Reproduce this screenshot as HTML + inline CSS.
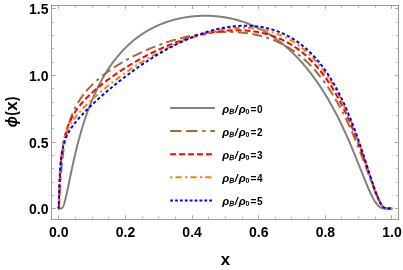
<!DOCTYPE html>
<html><head><meta charset="utf-8"><title>plot</title>
<style>
html,body{margin:0;padding:0;background:#fff;}
body{width:403px;height:270px;overflow:hidden;}
svg{display:block;will-change:transform;}
text{font-family:"Liberation Sans",sans-serif;font-weight:bold;fill:#000;}
.tk text{font-size:14px;}
.lg text{font-size:10px;}
.lg text.rho{font-size:11.5px;font-style:italic;}
.lg text.sl{font-size:11px;font-style:italic;}
.it{font-style:italic;}
.lg text.sub{font-size:7px;}
.lg text.subB{font-size:7.3px;font-style:italic;font-weight:normal;stroke:#000;stroke-width:0.3px;}
.ax{font-size:16.8px;}
</style></head><body>
<svg width="403" height="270" viewBox="0 0 403 270">
<rect x="0" y="0" width="403" height="270" fill="#fff"/>
<g class="curves" stroke-linejoin="round">
<path d="M58.40 208.60L58.40 208.60L58.41 208.60L58.42 208.60L58.43 208.60L58.44 208.60L58.46 208.60L58.48 208.60L58.51 208.60L58.54 208.60L58.57 208.60L58.60 208.60L58.64 208.60L58.68 208.60L58.73 208.60L58.78 208.60L58.83 208.60L58.89 208.60L58.94 208.60L59.01 208.60L59.07 208.60L59.14 208.60L59.21 208.60L59.29 208.60L59.37 208.60L59.45 208.60L59.54 208.60L59.62 208.60L59.72 208.60L59.81 208.60L59.91 208.60L60.01 208.60L60.12 208.60L60.23 208.60L60.34 208.60L60.46 208.59L60.58 208.59L60.70 208.58L60.82 208.57L60.95 208.55L61.08 208.52L61.22 208.48L61.36 208.44L61.50 208.37L61.65 208.29L61.79 208.20L61.95 208.08L62.10 207.93L62.26 207.76L62.42 207.55L62.59 207.32L62.76 207.05L62.93 206.74L63.10 206.40L63.28 206.01L63.46 205.59L63.65 205.12L63.84 204.61L64.03 204.06L64.22 203.46L64.42 202.82L64.62 202.14L64.82 201.42L65.03 200.65L65.24 199.85L65.46 199.00L65.67 198.12L65.89 197.20L66.12 196.24L66.34 195.25L66.57 194.22L66.81 193.17L67.04 192.08L67.28 190.96L67.53 189.82L67.77 188.65L68.02 187.46L68.27 186.25L68.53 185.01L68.79 183.76L69.05 182.48L69.32 181.20L69.58 179.89L69.85 178.58L70.13 177.25L70.41 175.90L70.69 174.55L70.97 173.19L71.26 171.83L71.55 170.45L71.84 169.07L72.14 167.69L72.44 166.30L72.74 164.90L73.04 163.51L73.35 162.12L73.66 160.72L73.98 159.32L74.30 157.93L74.62 156.53L74.94 155.14L75.27 153.75L75.60 152.36L75.93 150.98L76.27 149.60L76.60 148.22L76.95 146.85L77.29 145.49L77.64 144.12L77.99 142.77L78.34 141.42L78.70 140.07L79.06 138.74L79.42 137.41L79.79 136.08L80.16 134.77L80.53 133.46L80.90 132.15L81.28 130.86L81.66 129.57L82.04 128.29L82.43 127.02L82.82 125.75L83.21 124.50L83.60 123.25L84.00 122.01L84.40 120.78L84.80 119.55L85.21 118.34L85.62 117.13L86.03 115.93L86.44 114.74L86.86 113.56L87.28 112.39L87.70 111.22L88.13 110.07L88.56 108.92L88.99 107.78L89.42 106.65L89.86 105.53L90.30 104.41L90.74 103.31L91.18 102.21L91.63 101.12L92.08 100.04L92.53 98.97L92.99 97.91L93.45 96.85L93.91 95.81L94.37 94.77L94.84 93.74L95.30 92.71L95.78 91.70L96.25 90.70L96.73 89.70L97.21 88.71L97.69 87.73L98.17 86.76L98.66 85.79L99.15 84.83L99.64 83.89L100.13 82.95L100.63 82.01L101.13 81.09L101.63 80.17L102.14 79.26L102.64 78.36L103.15 77.47L103.66 76.58L104.18 75.71L104.69 74.84L105.21 73.97L105.73 73.12L106.26 72.27L106.79 71.43L107.31 70.60L107.84 69.78L108.38 68.96L108.91 68.15L109.45 67.35L109.99 66.56L110.54 65.77L111.08 64.99L111.63 64.22L112.18 63.46L112.73 62.70L113.28 61.95L113.84 61.21L114.40 60.47L114.96 59.74L115.52 59.02L116.09 58.31L116.66 57.60L117.23 56.90L117.80 56.21L118.37 55.52L118.95 54.85L119.53 54.17L120.11 53.51L120.69 52.85L121.28 52.20L121.86 51.56L122.45 50.92L123.04 50.29L123.64 49.67L124.23 49.05L124.83 48.44L125.43 47.84L126.03 47.24L126.63 46.65L127.24 46.07L127.84 45.49L128.45 44.92L129.06 44.36L129.68 43.80L130.29 43.25L130.91 42.71L131.53 42.17L132.15 41.64L132.77 41.11L133.39 40.59L134.02 40.08L134.65 39.58L135.28 39.08L135.91 38.58L136.54 38.09L137.18 37.61L137.82 37.14L138.46 36.67L139.10 36.20L139.74 35.75L140.38 35.30L141.03 34.85L141.67 34.41L142.32 33.98L142.97 33.55L143.63 33.13L144.28 32.71L144.94 32.30L145.59 31.90L146.25 31.50L146.91 31.10L147.58 30.72L148.24 30.33L148.90 29.96L149.57 29.59L150.24 29.22L150.91 28.86L151.58 28.51L152.25 28.16L152.93 27.81L153.60 27.47L154.28 27.14L154.96 26.81L155.64 26.49L156.32 26.17L157.00 25.86L157.69 25.55L158.37 25.25L159.06 24.95L159.75 24.66L160.44 24.38L161.13 24.09L161.82 23.82L162.51 23.55L163.21 23.28L163.90 23.02L164.60 22.76L165.30 22.51L166.00 22.26L166.70 22.02L167.40 21.78L168.10 21.55L168.81 21.32L169.51 21.10L170.22 20.88L170.93 20.67L171.64 20.46L172.35 20.26L173.06 20.06L173.77 19.86L174.48 19.67L175.19 19.49L175.91 19.31L176.63 19.13L177.34 18.96L178.06 18.79L178.78 18.63L179.50 18.47L180.22 18.32L180.94 18.17L181.66 18.03L182.39 17.89L183.11 17.75L183.84 17.62L184.56 17.49L185.29 17.37L186.02 17.25L186.74 17.14L187.47 17.03L188.20 16.93L188.93 16.83L189.66 16.73L190.40 16.64L191.13 16.55L191.86 16.47L192.60 16.39L193.33 16.32L194.07 16.25L194.80 16.19L195.54 16.13L196.27 16.07L197.01 16.02L197.75 15.97L198.49 15.93L199.23 15.89L199.97 15.86L200.71 15.83L201.45 15.80L202.19 15.78L202.93 15.77L203.67 15.76L204.42 15.75L205.16 15.75L205.90 15.75L206.65 15.76L207.39 15.77L208.14 15.78L208.88 15.80L209.63 15.83L210.37 15.85L211.12 15.89L211.86 15.93L212.61 15.97L213.36 16.02L214.10 16.07L214.85 16.13L215.60 16.19L216.35 16.25L217.09 16.32L217.84 16.40L218.59 16.48L219.34 16.56L220.09 16.65L220.83 16.75L221.58 16.85L222.33 16.95L223.08 17.06L223.83 17.17L224.58 17.29L225.32 17.41L226.07 17.54L226.82 17.67L227.57 17.81L228.32 17.95L229.07 18.10L229.81 18.26L230.56 18.41L231.31 18.58L232.06 18.74L232.81 18.92L233.55 19.10L234.30 19.28L235.05 19.47L235.80 19.66L236.54 19.86L237.29 20.07L238.04 20.27L238.78 20.49L239.53 20.71L240.27 20.94L241.02 21.17L241.76 21.40L242.51 21.64L243.25 21.89L244.00 22.14L244.74 22.40L245.48 22.66L246.23 22.93L246.97 23.21L247.71 23.49L248.45 23.77L249.19 24.06L249.93 24.36L250.67 24.66L251.41 24.97L252.15 25.28L252.89 25.60L253.63 25.93L254.36 26.26L255.10 26.60L255.83 26.94L256.57 27.29L257.30 27.64L258.04 28.00L258.77 28.37L259.50 28.74L260.24 29.12L260.97 29.50L261.70 29.89L262.43 30.28L263.16 30.68L263.88 31.09L264.61 31.50L265.34 31.92L266.06 32.35L266.79 32.78L267.51 33.22L268.24 33.66L268.96 34.11L269.68 34.57L270.40 35.03L271.12 35.49L271.84 35.97L272.56 36.45L273.27 36.93L273.99 37.43L274.71 37.93L275.42 38.43L276.13 38.94L276.84 39.46L277.55 39.98L278.26 40.51L278.97 41.05L279.68 41.59L280.39 42.14L281.09 42.69L281.80 43.25L282.50 43.82L283.20 44.39L283.90 44.97L284.60 45.56L285.30 46.15L286.00 46.75L286.69 47.36L287.39 47.97L288.08 48.59L288.77 49.21L289.46 49.84L290.15 50.48L290.84 51.12L291.53 51.77L292.21 52.42L292.90 53.09L293.58 53.75L294.26 54.43L294.94 55.11L295.62 55.80L296.30 56.49L296.97 57.19L297.65 57.90L298.32 58.61L298.99 59.33L299.66 60.06L300.33 60.79L301.00 61.53L301.66 62.27L302.32 63.02L302.99 63.78L303.65 64.54L304.31 65.31L304.96 66.09L305.62 66.87L306.27 67.66L306.93 68.45L307.58 69.25L308.22 70.06L308.87 70.87L309.52 71.69L310.16 72.52L310.80 73.35L311.44 74.19L312.08 75.04L312.72 75.89L313.36 76.74L313.99 77.61L314.62 78.48L315.25 79.35L315.88 80.23L316.51 81.12L317.13 82.02L317.75 82.92L318.37 83.82L318.99 84.73L319.61 85.65L320.22 86.58L320.84 87.51L321.45 88.44L322.06 89.38L322.66 90.33L323.27 91.29L323.87 92.24L324.47 93.21L325.07 94.18L325.67 95.16L326.26 96.14L326.86 97.13L327.45 98.12L328.04 99.12L328.62 100.12L329.21 101.13L329.79 102.15L330.37 103.17L330.95 104.20L331.53 105.23L332.10 106.27L332.67 107.31L333.24 108.35L333.81 109.41L334.38 110.46L334.94 111.52L335.50 112.59L336.06 113.66L336.62 114.74L337.17 115.82L337.72 116.90L338.27 117.99L338.82 119.09L339.36 120.18L339.91 121.29L340.45 122.39L340.99 123.50L341.52 124.61L342.06 125.73L342.59 126.85L343.11 127.98L343.64 129.10L344.17 130.23L344.69 131.37L345.21 132.50L345.72 133.64L346.24 134.78L346.75 135.92L347.26 137.07L347.76 138.21L348.27 139.36L348.77 140.51L349.27 141.66L349.77 142.82L350.26 143.97L350.75 145.12L351.24 146.28L351.73 147.43L352.21 148.58L352.69 149.74L353.17 150.89L353.65 152.04L354.12 153.19L354.60 154.34L355.06 155.49L355.53 156.63L355.99 157.77L356.45 158.91L356.91 160.05L357.37 161.18L357.82 162.31L358.27 163.43L358.72 164.55L359.16 165.67L359.60 166.78L360.04 167.88L360.48 168.98L360.91 170.07L361.34 171.15L361.77 172.23L362.20 173.29L362.62 174.35L363.04 175.40L363.46 176.44L363.87 177.47L364.28 178.49L364.69 179.50L365.10 180.50L365.50 181.49L365.90 182.46L366.30 183.42L366.69 184.37L367.08 185.30L367.47 186.22L367.86 187.13L368.24 188.02L368.62 188.89L369.00 189.75L369.37 190.59L369.74 191.41L370.11 192.22L370.48 193.01L370.84 193.78L371.20 194.53L371.56 195.26L371.91 195.97L372.26 196.67L372.61 197.34L372.95 197.99L373.30 198.62L373.63 199.23L373.97 199.82L374.30 200.39L374.63 200.94L374.96 201.46L375.28 201.96L375.60 202.45L375.92 202.90L376.24 203.34L376.55 203.76L376.86 204.16L377.16 204.53L377.46 204.88L377.76 205.22L378.06 205.53L378.35 205.82L378.64 206.10L378.93 206.35L379.21 206.59L379.49 206.81L379.77 207.01L380.05 207.19L380.32 207.36L380.58 207.51L380.85 207.65L381.11 207.78L381.37 207.89L381.63 207.99L381.88 208.08L382.13 208.16L382.37 208.23L382.62 208.29L382.86 208.35L383.09 208.39L383.33 208.43L383.56 208.46L383.78 208.49L384.01 208.51L384.23 208.53L384.44 208.55L384.66 208.56L384.87 208.57L385.08 208.58L385.28 208.58L385.48 208.59L385.68 208.59L385.87 208.59L386.06 208.60L386.25 208.60L386.44 208.60L386.62 208.60L386.80 208.60L386.97 208.60L387.14 208.60L387.31 208.60L387.48 208.60L387.64 208.60L387.80 208.60L387.95 208.60L388.11 208.60L388.25 208.60L388.40 208.60L388.54 208.60L388.68 208.60L388.82 208.60L388.95 208.60L389.08 208.60L389.20 208.60L389.32 208.60L389.44 208.60L389.56 208.60L389.67 208.60L389.78 208.60L389.89 208.60L389.99 208.60L390.09 208.60L390.18 208.60L390.28 208.60L390.36 208.60L390.45 208.60L390.53 208.60L390.61 208.60L390.69 208.60L390.76 208.60L390.83 208.60L390.89 208.60L390.96 208.60L391.01 208.60L391.07 208.60L391.12 208.60L391.17 208.60L391.22 208.60L391.26 208.60L391.30 208.60L391.33 208.60L391.36 208.60L391.39 208.60L391.42 208.60L391.44 208.60L391.46 208.60L391.47 208.60L391.48 208.60L391.49 208.60L391.50 208.60L391.50 208.60L392.40 208.60" stroke="#808080" stroke-width="2.00" fill="none" />
<path d="M58.40 208.60L58.40 208.60L58.41 208.60L58.42 208.60L58.43 208.60L58.44 208.60L58.46 208.60L58.48 208.60L58.51 208.60L58.54 208.60L58.57 208.60L58.60 208.60L58.64 208.59L58.68 208.57L58.73 208.52L58.78 208.41L58.83 208.23L58.89 207.93L58.94 207.50L59.01 206.92L59.07 206.19L59.14 205.30L59.21 204.26L59.29 203.08L59.37 201.78L59.45 200.35L59.54 198.83L59.62 197.22L59.72 195.55L59.81 193.82L59.91 192.04L60.01 190.24L60.12 188.41L60.23 186.57L60.34 184.72L60.46 182.88L60.58 181.04L60.70 179.21L60.82 177.40L60.95 175.61L61.08 173.84L61.22 172.09L61.36 170.37L61.50 168.67L61.65 167.01L61.79 165.36L61.95 163.75L62.10 162.17L62.26 160.61L62.42 159.09L62.59 157.59L62.76 156.12L62.93 154.68L63.10 153.26L63.28 151.88L63.46 150.52L63.65 149.18L63.84 147.87L64.03 146.59L64.22 145.33L64.42 144.09L64.62 142.88L64.82 141.69L65.03 140.52L65.24 139.37L65.46 138.25L65.67 137.14L65.89 136.05L66.12 134.99L66.34 133.94L66.57 132.91L66.81 131.89L67.04 130.90L67.28 129.92L67.53 128.96L67.77 128.01L68.02 127.08L68.27 126.16L68.53 125.26L68.79 124.37L69.05 123.49L69.32 122.63L69.58 121.78L69.85 120.95L70.13 120.13L70.41 119.31L70.69 118.52L70.97 117.73L71.26 116.95L71.55 116.18L71.84 115.43L72.14 114.68L72.44 113.95L72.74 113.22L73.04 112.50L73.35 111.80L73.66 111.10L73.98 110.41L74.30 109.73L74.62 109.05L74.94 108.39L75.27 107.73L75.60 107.08L75.93 106.44L76.27 105.81L76.60 105.18L76.95 104.56L77.29 103.95L77.64 103.34L77.99 102.74L78.34 102.15L78.70 101.56L79.06 100.98L79.42 100.41L79.79 99.84L80.16 99.27L80.53 98.71L80.90 98.16L81.28 97.61L81.66 97.07L82.04 96.53L82.43 96.00L82.82 95.47L83.21 94.94L83.60 94.43L84.00 93.91L84.40 93.40L84.80 92.89L85.21 92.39L85.62 91.89L86.03 91.40L86.44 90.91L86.86 90.42L87.28 89.94L87.70 89.46L88.13 88.98L88.56 88.51L88.99 88.04L89.42 87.58L89.86 87.11L90.30 86.65L90.74 86.20L91.18 85.74L91.63 85.29L92.08 84.85L92.53 84.40L92.99 83.96L93.45 83.52L93.91 83.08L94.37 82.65L94.84 82.22L95.30 81.79L95.78 81.36L96.25 80.94L96.73 80.51L97.21 80.09L97.69 79.67L98.17 79.26L98.66 78.85L99.15 78.43L99.64 78.02L100.13 77.62L100.63 77.21L101.13 76.81L101.63 76.41L102.14 76.01L102.64 75.61L103.15 75.21L103.66 74.82L104.18 74.42L104.69 74.03L105.21 73.64L105.73 73.26L106.26 72.87L106.79 72.48L107.31 72.10L107.84 71.72L108.38 71.34L108.91 70.96L109.45 70.58L109.99 70.21L110.54 69.84L111.08 69.46L111.63 69.09L112.18 68.72L112.73 68.35L113.28 67.99L113.84 67.62L114.40 67.26L114.96 66.89L115.52 66.53L116.09 66.17L116.66 65.81L117.23 65.46L117.80 65.10L118.37 64.75L118.95 64.39L119.53 64.04L120.11 63.69L120.69 63.34L121.28 62.99L121.86 62.64L122.45 62.30L123.04 61.95L123.64 61.61L124.23 61.27L124.83 60.93L125.43 60.59L126.03 60.25L126.63 59.91L127.24 59.58L127.84 59.25L128.45 58.91L129.06 58.58L129.68 58.25L130.29 57.92L130.91 57.60L131.53 57.27L132.15 56.95L132.77 56.62L133.39 56.30L134.02 55.98L134.65 55.66L135.28 55.34L135.91 55.03L136.54 54.71L137.18 54.40L137.82 54.09L138.46 53.78L139.10 53.47L139.74 53.16L140.38 52.86L141.03 52.55L141.67 52.25L142.32 51.95L142.97 51.65L143.63 51.35L144.28 51.06L144.94 50.76L145.59 50.47L146.25 50.18L146.91 49.89L147.58 49.60L148.24 49.32L148.90 49.03L149.57 48.75L150.24 48.47L150.91 48.19L151.58 47.91L152.25 47.64L152.93 47.36L153.60 47.09L154.28 46.82L154.96 46.55L155.64 46.29L156.32 46.02L157.00 45.76L157.69 45.50L158.37 45.24L159.06 44.99L159.75 44.73L160.44 44.48L161.13 44.23L161.82 43.98L162.51 43.73L163.21 43.49L163.90 43.25L164.60 43.01L165.30 42.77L166.00 42.53L166.70 42.30L167.40 42.07L168.10 41.84L168.81 41.61L169.51 41.38L170.22 41.16L170.93 40.94L171.64 40.72L172.35 40.51L173.06 40.29L173.77 40.08L174.48 39.87L175.19 39.67L175.91 39.46L176.63 39.26L177.34 39.06L178.06 38.86L178.78 38.67L179.50 38.47L180.22 38.28L180.94 38.10L181.66 37.91L182.39 37.73L183.11 37.55L183.84 37.37L184.56 37.20L185.29 37.03L186.02 36.86L186.74 36.69L187.47 36.52L188.20 36.36L188.93 36.20L189.66 36.05L190.40 35.89L191.13 35.74L191.86 35.59L192.60 35.45L193.33 35.30L194.07 35.16L194.80 35.02L195.54 34.89L196.27 34.76L197.01 34.63L197.75 34.50L198.49 34.38L199.23 34.25L199.97 34.14L200.71 34.02L201.45 33.91L202.19 33.80L202.93 33.69L203.67 33.59L204.42 33.49L205.16 33.39L205.90 33.29L206.65 33.20L207.39 33.11L208.14 33.03L208.88 32.94L209.63 32.86L210.37 32.79L211.12 32.71L211.86 32.64L212.61 32.58L213.36 32.51L214.10 32.45L214.85 32.39L215.60 32.34L216.35 32.29L217.09 32.24L217.84 32.19L218.59 32.15L219.34 32.11L220.09 32.08L220.83 32.04L221.58 32.01L222.33 31.99L223.08 31.97L223.83 31.95L224.58 31.93L225.32 31.92L226.07 31.91L226.82 31.91L227.57 31.91L228.32 31.91L229.07 31.92L229.81 31.92L230.56 31.94L231.31 31.95L232.06 31.97L232.81 32.00L233.55 32.03L234.30 32.06L235.05 32.09L235.80 32.13L236.54 32.18L237.29 32.22L238.04 32.27L238.78 32.33L239.53 32.39L240.27 32.45L241.02 32.52L241.76 32.59L242.51 32.66L243.25 32.74L244.00 32.82L244.74 32.91L245.48 33.00L246.23 33.10L246.97 33.20L247.71 33.30L248.45 33.41L249.19 33.53L249.93 33.64L250.67 33.77L251.41 33.89L252.15 34.02L252.89 34.16L253.63 34.30L254.36 34.45L255.10 34.60L255.83 34.75L256.57 34.91L257.30 35.08L258.04 35.25L258.77 35.42L259.50 35.60L260.24 35.78L260.97 35.97L261.70 36.17L262.43 36.37L263.16 36.57L263.88 36.78L264.61 37.00L265.34 37.22L266.06 37.44L266.79 37.68L267.51 37.91L268.24 38.15L268.96 38.40L269.68 38.66L270.40 38.92L271.12 39.18L271.84 39.45L272.56 39.73L273.27 40.01L273.99 40.30L274.71 40.59L275.42 40.89L276.13 41.20L276.84 41.51L277.55 41.83L278.26 42.15L278.97 42.48L279.68 42.82L280.39 43.16L281.09 43.51L281.80 43.87L282.50 44.23L283.20 44.60L283.90 44.98L284.60 45.36L285.30 45.75L286.00 46.14L286.69 46.54L287.39 46.95L288.08 47.37L288.77 47.79L289.46 48.22L290.15 48.65L290.84 49.10L291.53 49.55L292.21 50.00L292.90 50.47L293.58 50.94L294.26 51.41L294.94 51.90L295.62 52.39L296.30 52.89L296.97 53.40L297.65 53.91L298.32 54.43L298.99 54.96L299.66 55.49L300.33 56.04L301.00 56.59L301.66 57.15L302.32 57.71L302.99 58.28L303.65 58.86L304.31 59.45L304.96 60.04L305.62 60.65L306.27 61.26L306.93 61.87L307.58 62.50L308.22 63.13L308.87 63.77L309.52 64.42L310.16 65.07L310.80 65.73L311.44 66.40L312.08 67.08L312.72 67.77L313.36 68.46L313.99 69.16L314.62 69.87L315.25 70.58L315.88 71.31L316.51 72.04L317.13 72.77L317.75 73.52L318.37 74.27L318.99 75.03L319.61 75.80L320.22 76.58L320.84 77.36L321.45 78.15L322.06 78.94L322.66 79.75L323.27 80.56L323.87 81.38L324.47 82.21L325.07 83.04L325.67 83.88L326.26 84.73L326.86 85.58L327.45 86.44L328.04 87.31L328.62 88.19L329.21 89.07L329.79 89.96L330.37 90.85L330.95 91.76L331.53 92.67L332.10 93.58L332.67 94.50L333.24 95.43L333.81 96.37L334.38 97.31L334.94 98.26L335.50 99.21L336.06 100.17L336.62 101.14L337.17 102.11L337.72 103.09L338.27 104.07L338.82 105.06L339.36 106.05L339.91 107.05L340.45 108.06L340.99 109.07L341.52 110.09L342.06 111.11L342.59 112.14L343.11 113.17L343.64 114.20L344.17 115.25L344.69 116.29L345.21 117.34L345.72 118.40L346.24 119.46L346.75 120.52L347.26 121.59L347.76 122.66L348.27 123.74L348.77 124.81L349.27 125.90L349.77 126.98L350.26 128.07L350.75 129.16L351.24 130.26L351.73 131.36L352.21 132.46L352.69 133.56L353.17 134.67L353.65 135.78L354.12 136.89L354.60 138.00L355.06 139.11L355.53 140.23L355.99 141.34L356.45 142.46L356.91 143.58L357.37 144.70L357.82 145.82L358.27 146.94L358.72 148.06L359.16 149.18L359.60 150.30L360.04 151.42L360.48 152.54L360.91 153.66L361.34 154.77L361.77 155.89L362.20 157.00L362.62 158.11L363.04 159.22L363.46 160.33L363.87 161.43L364.28 162.53L364.69 163.62L365.10 164.72L365.50 165.81L365.90 166.89L366.30 167.97L366.69 169.04L367.08 170.11L367.47 171.17L367.86 172.23L368.24 173.27L368.62 174.32L369.00 175.35L369.37 176.38L369.74 177.39L370.11 178.40L370.48 179.40L370.84 180.39L371.20 181.37L371.56 182.34L371.91 183.30L372.26 184.24L372.61 185.18L372.95 186.10L373.30 187.01L373.63 187.90L373.97 188.78L374.30 189.65L374.63 190.50L374.96 191.33L375.28 192.15L375.60 192.95L375.92 193.74L376.24 194.50L376.55 195.25L376.86 195.98L377.16 196.69L377.46 197.38L377.76 198.05L378.06 198.70L378.35 199.33L378.64 199.94L378.93 200.53L379.21 201.09L379.49 201.63L379.77 202.15L380.05 202.65L380.32 203.13L380.58 203.58L380.85 204.01L381.11 204.42L381.37 204.80L381.63 205.16L381.88 205.50L382.13 205.82L382.37 206.11L382.62 206.39L382.86 206.64L383.09 206.87L383.33 207.09L383.56 207.28L383.78 207.46L384.01 207.62L384.23 207.76L384.44 207.89L384.66 208.00L384.87 208.10L385.08 208.19L385.28 208.26L385.48 208.32L385.68 208.38L385.87 208.42L386.06 208.46L386.25 208.49L386.44 208.52L386.62 208.54L386.80 208.55L386.97 208.57L387.14 208.58L387.31 208.58L387.48 208.59L387.64 208.59L387.80 208.60L387.95 208.60L388.11 208.60L388.25 208.60L388.40 208.60L388.54 208.60L388.68 208.60L388.82 208.60L388.95 208.60L389.08 208.60L389.20 208.60L389.32 208.60L389.44 208.60L389.56 208.60L389.67 208.60L389.78 208.60L389.89 208.60L389.99 208.60L390.09 208.60L390.18 208.60L390.28 208.60L390.36 208.60L390.45 208.60L390.53 208.60L390.61 208.60L390.69 208.60L390.76 208.60L390.83 208.60L390.89 208.60L390.96 208.60L391.01 208.60L391.07 208.60L391.12 208.60L391.17 208.60L391.22 208.60L391.26 208.60L391.30 208.60L391.33 208.60L391.36 208.60L391.39 208.60L391.42 208.60L391.44 208.60L391.46 208.60L391.47 208.60L391.48 208.60L391.49 208.60L391.50 208.60L391.50 208.60L392.40 208.60" stroke="#a06c34" stroke-width="2.00" fill="none" stroke-dasharray="10.160 4.354 10.160 4.354 2.993 4.354" stroke-dashoffset="0.46"/>
<path d="M58.40 208.60L58.40 208.60L58.41 208.60L58.42 208.60L58.43 208.60L58.44 208.60L58.46 208.60L58.48 208.60L58.51 208.60L58.54 208.60L58.57 208.58L58.60 208.53L58.64 208.39L58.68 208.12L58.73 207.65L58.78 206.96L58.83 206.02L58.89 204.84L58.94 203.44L59.01 201.84L59.07 200.07L59.14 198.18L59.21 196.18L59.29 194.11L59.37 191.99L59.45 189.85L59.54 187.70L59.62 185.56L59.72 183.44L59.81 181.36L59.91 179.30L60.01 177.30L60.12 175.34L60.23 173.42L60.34 171.56L60.46 169.75L60.58 167.99L60.70 166.29L60.82 164.63L60.95 163.02L61.08 161.47L61.22 159.95L61.36 158.49L61.50 157.07L61.65 155.69L61.79 154.35L61.95 153.05L62.10 151.78L62.26 150.56L62.42 149.36L62.59 148.20L62.76 147.07L62.93 145.98L63.10 144.91L63.28 143.86L63.46 142.85L63.65 141.86L63.84 140.89L64.03 139.94L64.22 139.02L64.42 138.12L64.62 137.24L64.82 136.38L65.03 135.53L65.24 134.71L65.46 133.90L65.67 133.10L65.89 132.33L66.12 131.56L66.34 130.81L66.57 130.08L66.81 129.35L67.04 128.64L67.28 127.95L67.53 127.26L67.77 126.58L68.02 125.92L68.27 125.26L68.53 124.62L68.79 123.98L69.05 123.35L69.32 122.74L69.58 122.13L69.85 121.52L70.13 120.93L70.41 120.34L70.69 119.76L70.97 119.19L71.26 118.62L71.55 118.06L71.84 117.51L72.14 116.96L72.44 116.42L72.74 115.88L73.04 115.35L73.35 114.82L73.66 114.30L73.98 113.78L74.30 113.27L74.62 112.76L74.94 112.26L75.27 111.76L75.60 111.26L75.93 110.77L76.27 110.28L76.60 109.80L76.95 109.31L77.29 108.83L77.64 108.36L77.99 107.89L78.34 107.42L78.70 106.95L79.06 106.49L79.42 106.03L79.79 105.57L80.16 105.11L80.53 104.66L80.90 104.21L81.28 103.76L81.66 103.31L82.04 102.86L82.43 102.42L82.82 101.98L83.21 101.54L83.60 101.10L84.00 100.67L84.40 100.23L84.80 99.80L85.21 99.37L85.62 98.94L86.03 98.51L86.44 98.08L86.86 97.66L87.28 97.23L87.70 96.81L88.13 96.39L88.56 95.97L88.99 95.55L89.42 95.13L89.86 94.71L90.30 94.30L90.74 93.88L91.18 93.47L91.63 93.05L92.08 92.64L92.53 92.23L92.99 91.82L93.45 91.40L93.91 91.00L94.37 90.59L94.84 90.18L95.30 89.77L95.78 89.36L96.25 88.96L96.73 88.55L97.21 88.15L97.69 87.74L98.17 87.34L98.66 86.94L99.15 86.53L99.64 86.13L100.13 85.73L100.63 85.33L101.13 84.93L101.63 84.53L102.14 84.13L102.64 83.73L103.15 83.33L103.66 82.93L104.18 82.53L104.69 82.14L105.21 81.74L105.73 81.34L106.26 80.95L106.79 80.55L107.31 80.16L107.84 79.76L108.38 79.37L108.91 78.98L109.45 78.58L109.99 78.19L110.54 77.80L111.08 77.40L111.63 77.01L112.18 76.62L112.73 76.23L113.28 75.84L113.84 75.45L114.40 75.06L114.96 74.67L115.52 74.28L116.09 73.90L116.66 73.51L117.23 73.12L117.80 72.74L118.37 72.35L118.95 71.96L119.53 71.58L120.11 71.19L120.69 70.81L121.28 70.43L121.86 70.05L122.45 69.66L123.04 69.28L123.64 68.90L124.23 68.52L124.83 68.14L125.43 67.76L126.03 67.38L126.63 67.01L127.24 66.63L127.84 66.25L128.45 65.88L129.06 65.51L129.68 65.13L130.29 64.76L130.91 64.39L131.53 64.02L132.15 63.65L132.77 63.28L133.39 62.91L134.02 62.54L134.65 62.17L135.28 61.81L135.91 61.44L136.54 61.08L137.18 60.71L137.82 60.35L138.46 59.99L139.10 59.63L139.74 59.27L140.38 58.92L141.03 58.56L141.67 58.20L142.32 57.85L142.97 57.50L143.63 57.14L144.28 56.79L144.94 56.45L145.59 56.10L146.25 55.75L146.91 55.41L147.58 55.06L148.24 54.72L148.90 54.38L149.57 54.04L150.24 53.70L150.91 53.36L151.58 53.03L152.25 52.69L152.93 52.36L153.60 52.03L154.28 51.70L154.96 51.37L155.64 51.05L156.32 50.72L157.00 50.40L157.69 50.08L158.37 49.76L159.06 49.44L159.75 49.12L160.44 48.81L161.13 48.50L161.82 48.19L162.51 47.88L163.21 47.57L163.90 47.27L164.60 46.96L165.30 46.66L166.00 46.36L166.70 46.07L167.40 45.77L168.10 45.48L168.81 45.19L169.51 44.90L170.22 44.61L170.93 44.33L171.64 44.05L172.35 43.77L173.06 43.49L173.77 43.21L174.48 42.94L175.19 42.67L175.91 42.40L176.63 42.13L177.34 41.87L178.06 41.61L178.78 41.35L179.50 41.09L180.22 40.84L180.94 40.58L181.66 40.33L182.39 40.09L183.11 39.84L183.84 39.60L184.56 39.36L185.29 39.12L186.02 38.89L186.74 38.66L187.47 38.43L188.20 38.20L188.93 37.98L189.66 37.76L190.40 37.54L191.13 37.32L191.86 37.11L192.60 36.90L193.33 36.69L194.07 36.49L194.80 36.29L195.54 36.09L196.27 35.89L197.01 35.70L197.75 35.51L198.49 35.32L199.23 35.14L199.97 34.96L200.71 34.78L201.45 34.61L202.19 34.44L202.93 34.27L203.67 34.10L204.42 33.94L205.16 33.78L205.90 33.63L206.65 33.47L207.39 33.33L208.14 33.18L208.88 33.04L209.63 32.90L210.37 32.76L211.12 32.63L211.86 32.50L212.61 32.37L213.36 32.25L214.10 32.13L214.85 32.02L215.60 31.90L216.35 31.80L217.09 31.69L217.84 31.59L218.59 31.49L219.34 31.40L220.09 31.31L220.83 31.22L221.58 31.14L222.33 31.06L223.08 30.98L223.83 30.91L224.58 30.84L225.32 30.78L226.07 30.71L226.82 30.66L227.57 30.61L228.32 30.56L229.07 30.51L229.81 30.47L230.56 30.43L231.31 30.40L232.06 30.37L232.81 30.34L233.55 30.32L234.30 30.31L235.05 30.29L235.80 30.29L236.54 30.28L237.29 30.28L238.04 30.28L238.78 30.29L239.53 30.31L240.27 30.32L241.02 30.34L241.76 30.37L242.51 30.40L243.25 30.44L244.00 30.47L244.74 30.52L245.48 30.57L246.23 30.62L246.97 30.68L247.71 30.74L248.45 30.81L249.19 30.88L249.93 30.96L250.67 31.04L251.41 31.12L252.15 31.21L252.89 31.31L253.63 31.41L254.36 31.52L255.10 31.63L255.83 31.74L256.57 31.86L257.30 31.99L258.04 32.12L258.77 32.26L259.50 32.40L260.24 32.55L260.97 32.70L261.70 32.86L262.43 33.02L263.16 33.19L263.88 33.36L264.61 33.54L265.34 33.73L266.06 33.92L266.79 34.11L267.51 34.31L268.24 34.52L268.96 34.73L269.68 34.95L270.40 35.18L271.12 35.41L271.84 35.65L272.56 35.89L273.27 36.14L273.99 36.39L274.71 36.65L275.42 36.92L276.13 37.19L276.84 37.47L277.55 37.76L278.26 38.05L278.97 38.34L279.68 38.65L280.39 38.96L281.09 39.28L281.80 39.60L282.50 39.93L283.20 40.27L283.90 40.61L284.60 40.96L285.30 41.32L286.00 41.68L286.69 42.05L287.39 42.43L288.08 42.81L288.77 43.20L289.46 43.60L290.15 44.00L290.84 44.42L291.53 44.83L292.21 45.26L292.90 45.69L293.58 46.13L294.26 46.58L294.94 47.03L295.62 47.50L296.30 47.97L296.97 48.44L297.65 48.93L298.32 49.42L298.99 49.92L299.66 50.42L300.33 50.94L301.00 51.46L301.66 51.99L302.32 52.52L302.99 53.07L303.65 53.62L304.31 54.18L304.96 54.74L305.62 55.32L306.27 55.90L306.93 56.49L307.58 57.09L308.22 57.70L308.87 58.31L309.52 58.93L310.16 59.56L310.80 60.20L311.44 60.85L312.08 61.50L312.72 62.16L313.36 62.83L313.99 63.51L314.62 64.20L315.25 64.89L315.88 65.59L316.51 66.30L317.13 67.02L317.75 67.75L318.37 68.48L318.99 69.23L319.61 69.98L320.22 70.73L320.84 71.50L321.45 72.28L322.06 73.06L322.66 73.85L323.27 74.65L323.87 75.46L324.47 76.27L325.07 77.10L325.67 77.93L326.26 78.77L326.86 79.61L327.45 80.47L328.04 81.33L328.62 82.21L329.21 83.08L329.79 83.97L330.37 84.87L330.95 85.77L331.53 86.68L332.10 87.60L332.67 88.53L333.24 89.46L333.81 90.40L334.38 91.35L334.94 92.31L335.50 93.27L336.06 94.24L336.62 95.22L337.17 96.21L337.72 97.20L338.27 98.20L338.82 99.21L339.36 100.22L339.91 101.24L340.45 102.27L340.99 103.31L341.52 104.35L342.06 105.40L342.59 106.45L343.11 107.52L343.64 108.58L344.17 109.66L344.69 110.74L345.21 111.82L345.72 112.92L346.24 114.01L346.75 115.12L347.26 116.23L347.76 117.34L348.27 118.46L348.77 119.59L349.27 120.72L349.77 121.85L350.26 122.99L350.75 124.14L351.24 125.28L351.73 126.44L352.21 127.59L352.69 128.75L353.17 129.92L353.65 131.09L354.12 132.26L354.60 133.43L355.06 134.61L355.53 135.79L355.99 136.97L356.45 138.15L356.91 139.34L357.37 140.52L357.82 141.71L358.27 142.90L358.72 144.10L359.16 145.29L359.60 146.48L360.04 147.67L360.48 148.86L360.91 150.05L361.34 151.25L361.77 152.43L362.20 153.62L362.62 154.81L363.04 155.99L363.46 157.18L363.87 158.35L364.28 159.53L364.69 160.70L365.10 161.87L365.50 163.03L365.90 164.19L366.30 165.35L366.69 166.49L367.08 167.64L367.47 168.77L367.86 169.90L368.24 171.02L368.62 172.13L369.00 173.24L369.37 174.33L369.74 175.42L370.11 176.50L370.48 177.57L370.84 178.62L371.20 179.67L371.56 180.70L371.91 181.72L372.26 182.73L372.61 183.72L372.95 184.70L373.30 185.66L373.63 186.61L373.97 187.55L374.30 188.47L374.63 189.37L374.96 190.25L375.28 191.12L375.60 191.97L375.92 192.80L376.24 193.61L376.55 194.40L376.86 195.17L377.16 195.92L377.46 196.65L377.76 197.36L378.06 198.04L378.35 198.70L378.64 199.34L378.93 199.96L379.21 200.56L379.49 201.13L379.77 201.68L380.05 202.20L380.32 202.70L380.58 203.18L380.85 203.63L381.11 204.06L381.37 204.47L381.63 204.85L381.88 205.21L382.13 205.55L382.37 205.86L382.62 206.15L382.86 206.42L383.09 206.67L383.33 206.90L383.56 207.11L383.78 207.31L384.01 207.48L384.23 207.64L384.44 207.78L384.66 207.90L384.87 208.01L385.08 208.11L385.28 208.19L385.48 208.27L385.68 208.33L385.87 208.38L386.06 208.43L386.25 208.46L386.44 208.49L386.62 208.52L386.80 208.54L386.97 208.55L387.14 208.57L387.31 208.58L387.48 208.58L387.64 208.59L387.80 208.59L387.95 208.59L388.11 208.60L388.25 208.60L388.40 208.60L388.54 208.60L388.68 208.60L388.82 208.60L388.95 208.60L389.08 208.60L389.20 208.60L389.32 208.60L389.44 208.60L389.56 208.60L389.67 208.60L389.78 208.60L389.89 208.60L389.99 208.60L390.09 208.60L390.18 208.60L390.28 208.60L390.36 208.60L390.45 208.60L390.53 208.60L390.61 208.60L390.69 208.60L390.76 208.60L390.83 208.60L390.89 208.60L390.96 208.60L391.01 208.60L391.07 208.60L391.12 208.60L391.17 208.60L391.22 208.60L391.26 208.60L391.30 208.60L391.33 208.60L391.36 208.60L391.39 208.60L391.42 208.60L391.44 208.60L391.46 208.60L391.47 208.60L391.48 208.60L391.49 208.60L391.50 208.60L391.50 208.60L392.40 208.60" stroke="#ff0000" stroke-width="2.00" fill="none" stroke-dasharray="5.920 2.965" stroke-dashoffset="-0.29"/>
<path d="M58.40 208.60L58.40 208.60L58.41 208.60L58.42 208.60L58.43 208.60L58.44 208.60L58.46 208.60L58.48 208.60L58.51 208.60L58.54 208.60L58.57 208.60L58.60 208.58L58.64 208.51L58.68 208.35L58.73 208.03L58.78 207.50L58.83 206.72L58.89 205.67L58.94 204.35L59.01 202.77L59.07 200.98L59.14 198.99L59.21 196.86L59.29 194.63L59.37 192.31L59.45 189.96L59.54 187.59L59.62 185.23L59.72 182.89L59.81 180.59L59.91 178.35L60.01 176.16L60.12 174.03L60.23 171.98L60.34 169.99L60.46 168.08L60.58 166.24L60.70 164.47L60.82 162.77L60.95 161.14L61.08 159.58L61.22 158.08L61.36 156.64L61.50 155.26L61.65 153.93L61.79 152.66L61.95 151.43L62.10 150.26L62.26 149.13L62.42 148.04L62.59 147.00L62.76 145.99L62.93 145.02L63.10 144.09L63.28 143.18L63.46 142.31L63.65 141.46L63.84 140.65L64.03 139.85L64.22 139.08L64.42 138.34L64.62 137.62L64.82 136.91L65.03 136.23L65.24 135.56L65.46 134.91L65.67 134.27L65.89 133.66L66.12 133.05L66.34 132.46L66.57 131.88L66.81 131.31L67.04 130.75L67.28 130.20L67.53 129.67L67.77 129.14L68.02 128.62L68.27 128.11L68.53 127.60L68.79 127.11L69.05 126.62L69.32 126.13L69.58 125.65L69.85 125.18L70.13 124.71L70.41 124.25L70.69 123.79L70.97 123.34L71.26 122.89L71.55 122.44L71.84 122.00L72.14 121.56L72.44 121.12L72.74 120.69L73.04 120.25L73.35 119.82L73.66 119.40L73.98 118.97L74.30 118.55L74.62 118.13L74.94 117.71L75.27 117.29L75.60 116.87L75.93 116.45L76.27 116.04L76.60 115.62L76.95 115.21L77.29 114.80L77.64 114.38L77.99 113.97L78.34 113.56L78.70 113.15L79.06 112.74L79.42 112.33L79.79 111.92L80.16 111.51L80.53 111.10L80.90 110.69L81.28 110.28L81.66 109.87L82.04 109.46L82.43 109.05L82.82 108.64L83.21 108.23L83.60 107.82L84.00 107.41L84.40 107.00L84.80 106.58L85.21 106.17L85.62 105.76L86.03 105.35L86.44 104.93L86.86 104.52L87.28 104.11L87.70 103.69L88.13 103.28L88.56 102.86L88.99 102.45L89.42 102.03L89.86 101.61L90.30 101.20L90.74 100.78L91.18 100.36L91.63 99.94L92.08 99.52L92.53 99.10L92.99 98.68L93.45 98.26L93.91 97.84L94.37 97.42L94.84 97.00L95.30 96.58L95.78 96.16L96.25 95.73L96.73 95.31L97.21 94.89L97.69 94.46L98.17 94.04L98.66 93.61L99.15 93.19L99.64 92.76L100.13 92.34L100.63 91.91L101.13 91.49L101.63 91.06L102.14 90.63L102.64 90.21L103.15 89.78L103.66 89.35L104.18 88.93L104.69 88.50L105.21 88.07L105.73 87.65L106.26 87.22L106.79 86.79L107.31 86.36L107.84 85.93L108.38 85.51L108.91 85.08L109.45 84.65L109.99 84.22L110.54 83.80L111.08 83.37L111.63 82.94L112.18 82.51L112.73 82.09L113.28 81.66L113.84 81.23L114.40 80.81L114.96 80.38L115.52 79.95L116.09 79.53L116.66 79.10L117.23 78.68L117.80 78.25L118.37 77.83L118.95 77.41L119.53 76.98L120.11 76.56L120.69 76.14L121.28 75.71L121.86 75.29L122.45 74.87L123.04 74.45L123.64 74.03L124.23 73.61L124.83 73.19L125.43 72.77L126.03 72.36L126.63 71.94L127.24 71.52L127.84 71.11L128.45 70.69L129.06 70.28L129.68 69.86L130.29 69.45L130.91 69.04L131.53 68.63L132.15 68.22L132.77 67.81L133.39 67.40L134.02 66.99L134.65 66.58L135.28 66.18L135.91 65.77L136.54 65.37L137.18 64.96L137.82 64.56L138.46 64.16L139.10 63.76L139.74 63.36L140.38 62.96L141.03 62.57L141.67 62.17L142.32 61.78L142.97 61.38L143.63 60.99L144.28 60.60L144.94 60.21L145.59 59.82L146.25 59.43L146.91 59.05L147.58 58.66L148.24 58.28L148.90 57.90L149.57 57.51L150.24 57.13L150.91 56.76L151.58 56.38L152.25 56.00L152.93 55.63L153.60 55.26L154.28 54.89L154.96 54.52L155.64 54.15L156.32 53.78L157.00 53.42L157.69 53.05L158.37 52.69L159.06 52.33L159.75 51.97L160.44 51.61L161.13 51.26L161.82 50.90L162.51 50.55L163.21 50.20L163.90 49.85L164.60 49.50L165.30 49.16L166.00 48.82L166.70 48.47L167.40 48.13L168.10 47.80L168.81 47.46L169.51 47.13L170.22 46.79L170.93 46.46L171.64 46.13L172.35 45.81L173.06 45.48L173.77 45.16L174.48 44.84L175.19 44.52L175.91 44.21L176.63 43.89L177.34 43.58L178.06 43.27L178.78 42.96L179.50 42.66L180.22 42.35L180.94 42.05L181.66 41.75L182.39 41.46L183.11 41.16L183.84 40.87L184.56 40.58L185.29 40.29L186.02 40.01L186.74 39.73L187.47 39.45L188.20 39.17L188.93 38.90L189.66 38.62L190.40 38.36L191.13 38.09L191.86 37.82L192.60 37.56L193.33 37.30L194.07 37.05L194.80 36.80L195.54 36.54L196.27 36.30L197.01 36.05L197.75 35.81L198.49 35.57L199.23 35.34L199.97 35.10L200.71 34.87L201.45 34.65L202.19 34.42L202.93 34.20L203.67 33.98L204.42 33.77L205.16 33.56L205.90 33.35L206.65 33.14L207.39 32.94L208.14 32.74L208.88 32.55L209.63 32.36L210.37 32.17L211.12 31.98L211.86 31.80L212.61 31.63L213.36 31.45L214.10 31.28L214.85 31.11L215.60 30.95L216.35 30.79L217.09 30.63L217.84 30.48L218.59 30.33L219.34 30.19L220.09 30.05L220.83 29.91L221.58 29.78L222.33 29.65L223.08 29.52L223.83 29.40L224.58 29.29L225.32 29.17L226.07 29.07L226.82 28.96L227.57 28.86L228.32 28.76L229.07 28.67L229.81 28.59L230.56 28.50L231.31 28.42L232.06 28.35L232.81 28.28L233.55 28.21L234.30 28.15L235.05 28.10L235.80 28.05L236.54 28.00L237.29 27.96L238.04 27.92L238.78 27.89L239.53 27.86L240.27 27.83L241.02 27.82L241.76 27.80L242.51 27.79L243.25 27.79L244.00 27.79L244.74 27.80L245.48 27.81L246.23 27.83L246.97 27.85L247.71 27.87L248.45 27.91L249.19 27.94L249.93 27.99L250.67 28.03L251.41 28.09L252.15 28.15L252.89 28.21L253.63 28.28L254.36 28.35L255.10 28.43L255.83 28.52L256.57 28.61L257.30 28.71L258.04 28.81L258.77 28.92L259.50 29.04L260.24 29.16L260.97 29.28L261.70 29.41L262.43 29.55L263.16 29.69L263.88 29.84L264.61 30.00L265.34 30.16L266.06 30.33L266.79 30.50L267.51 30.68L268.24 30.87L268.96 31.06L269.68 31.26L270.40 31.46L271.12 31.67L271.84 31.89L272.56 32.11L273.27 32.34L273.99 32.58L274.71 32.82L275.42 33.07L276.13 33.32L276.84 33.59L277.55 33.86L278.26 34.13L278.97 34.41L279.68 34.70L280.39 35.00L281.09 35.30L281.80 35.61L282.50 35.92L283.20 36.25L283.90 36.58L284.60 36.91L285.30 37.26L286.00 37.61L286.69 37.96L287.39 38.33L288.08 38.70L288.77 39.08L289.46 39.46L290.15 39.86L290.84 40.26L291.53 40.66L292.21 41.08L292.90 41.50L293.58 41.93L294.26 42.37L294.94 42.81L295.62 43.26L296.30 43.72L296.97 44.19L297.65 44.67L298.32 45.15L298.99 45.64L299.66 46.14L300.33 46.64L301.00 47.15L301.66 47.67L302.32 48.20L302.99 48.74L303.65 49.28L304.31 49.84L304.96 50.40L305.62 50.96L306.27 51.54L306.93 52.13L307.58 52.72L308.22 53.32L308.87 53.93L309.52 54.54L310.16 55.17L310.80 55.80L311.44 56.44L312.08 57.09L312.72 57.75L313.36 58.42L313.99 59.09L314.62 59.78L315.25 60.47L315.88 61.17L316.51 61.88L317.13 62.60L317.75 63.32L318.37 64.06L318.99 64.80L319.61 65.55L320.22 66.32L320.84 67.08L321.45 67.86L322.06 68.65L322.66 69.44L323.27 70.25L323.87 71.06L324.47 71.88L325.07 72.71L325.67 73.55L326.26 74.40L326.86 75.26L327.45 76.12L328.04 77.00L328.62 77.88L329.21 78.77L329.79 79.68L330.37 80.59L330.95 81.50L331.53 82.43L332.10 83.37L332.67 84.31L333.24 85.26L333.81 86.23L334.38 87.20L334.94 88.18L335.50 89.16L336.06 90.16L336.62 91.17L337.17 92.18L337.72 93.20L338.27 94.23L338.82 95.27L339.36 96.32L339.91 97.37L340.45 98.43L340.99 99.51L341.52 100.58L342.06 101.67L342.59 102.77L343.11 103.87L343.64 104.98L344.17 106.09L344.69 107.22L345.21 108.35L345.72 109.49L346.24 110.64L346.75 111.79L347.26 112.95L347.76 114.11L348.27 115.29L348.77 116.47L349.27 117.65L349.77 118.84L350.26 120.04L350.75 121.24L351.24 122.45L351.73 123.66L352.21 124.88L352.69 126.10L353.17 127.33L353.65 128.56L354.12 129.79L354.60 131.03L355.06 132.27L355.53 133.52L355.99 134.76L356.45 136.01L356.91 137.27L357.37 138.52L357.82 139.78L358.27 141.04L358.72 142.29L359.16 143.55L359.60 144.81L360.04 146.07L360.48 147.33L360.91 148.59L361.34 149.85L361.77 151.10L362.20 152.36L362.62 153.61L363.04 154.86L363.46 156.10L363.87 157.34L364.28 158.58L364.69 159.81L365.10 161.04L365.50 162.26L365.90 163.48L366.30 164.69L366.69 165.89L367.08 167.08L367.47 168.27L367.86 169.44L368.24 170.61L368.62 171.77L369.00 172.92L369.37 174.06L369.74 175.18L370.11 176.30L370.48 177.40L370.84 178.49L371.20 179.56L371.56 180.63L371.91 181.67L372.26 182.71L372.61 183.72L372.95 184.72L373.30 185.70L373.63 186.67L373.97 187.62L374.30 188.55L374.63 189.46L374.96 190.35L375.28 191.23L375.60 192.08L375.92 192.91L376.24 193.72L376.55 194.51L376.86 195.28L377.16 196.02L377.46 196.75L377.76 197.45L378.06 198.13L378.35 198.78L378.64 199.41L378.93 200.02L379.21 200.61L379.49 201.17L379.77 201.71L380.05 202.22L380.32 202.71L380.58 203.18L380.85 203.62L381.11 204.04L381.37 204.44L381.63 204.81L381.88 205.16L382.13 205.49L382.37 205.80L382.62 206.09L382.86 206.35L383.09 206.60L383.33 206.83L383.56 207.04L383.78 207.23L384.01 207.40L384.23 207.56L384.44 207.70L384.66 207.83L384.87 207.94L385.08 208.05L385.28 208.13L385.48 208.21L385.68 208.28L385.87 208.34L386.06 208.39L386.25 208.43L386.44 208.46L386.62 208.49L386.80 208.52L386.97 208.54L387.14 208.55L387.31 208.56L387.48 208.57L387.64 208.58L387.80 208.59L387.95 208.59L388.11 208.59L388.25 208.60L388.40 208.60L388.54 208.60L388.68 208.60L388.82 208.60L388.95 208.60L389.08 208.60L389.20 208.60L389.32 208.60L389.44 208.60L389.56 208.60L389.67 208.60L389.78 208.60L389.89 208.60L389.99 208.60L390.09 208.60L390.18 208.60L390.28 208.60L390.36 208.60L390.45 208.60L390.53 208.60L390.61 208.60L390.69 208.60L390.76 208.60L390.83 208.60L390.89 208.60L390.96 208.60L391.01 208.60L391.07 208.60L391.12 208.60L391.17 208.60L391.22 208.60L391.26 208.60L391.30 208.60L391.33 208.60L391.36 208.60L391.39 208.60L391.42 208.60L391.44 208.60L391.46 208.60L391.47 208.60L391.48 208.60L391.49 208.60L391.50 208.60L391.50 208.60L392.40 208.60" stroke="#ff8000" stroke-width="2.00" fill="none" stroke-dasharray="2.141 2.919 6.131 3.309" stroke-dashoffset="0.35"/>
<path d="M58.40 208.60L58.40 208.60L58.41 208.60L58.42 208.60L58.43 208.60L58.44 208.60L58.46 208.60L58.48 208.60L58.51 208.60L58.54 208.57L58.57 208.46L58.60 208.20L58.64 207.70L58.68 206.90L58.73 205.78L58.78 204.35L58.83 202.65L58.89 200.72L58.94 198.63L59.01 196.42L59.07 194.14L59.14 191.83L59.21 189.52L59.29 187.24L59.37 184.99L59.45 182.81L59.54 180.69L59.62 178.65L59.72 176.67L59.81 174.78L59.91 172.97L60.01 171.23L60.12 169.56L60.23 167.97L60.34 166.44L60.46 164.98L60.58 163.58L60.70 162.25L60.82 160.96L60.95 159.74L61.08 158.56L61.22 157.43L61.36 156.34L61.50 155.30L61.65 154.29L61.79 153.32L61.95 152.39L62.10 151.49L62.26 150.62L62.42 149.78L62.59 148.96L62.76 148.17L62.93 147.41L63.10 146.66L63.28 145.94L63.46 145.24L63.65 144.56L63.84 143.89L64.03 143.24L64.22 142.60L64.42 141.98L64.62 141.38L64.82 140.78L65.03 140.20L65.24 139.63L65.46 139.07L65.67 138.52L65.89 137.98L66.12 137.45L66.34 136.93L66.57 136.41L66.81 135.90L67.04 135.40L67.28 134.91L67.53 134.42L67.77 133.94L68.02 133.46L68.27 132.99L68.53 132.52L68.79 132.06L69.05 131.60L69.32 131.15L69.58 130.70L69.85 130.25L70.13 129.81L70.41 129.37L70.69 128.93L70.97 128.49L71.26 128.06L71.55 127.63L71.84 127.20L72.14 126.78L72.44 126.35L72.74 125.93L73.04 125.51L73.35 125.09L73.66 124.67L73.98 124.25L74.30 123.83L74.62 123.42L74.94 123.00L75.27 122.59L75.60 122.18L75.93 121.76L76.27 121.35L76.60 120.94L76.95 120.53L77.29 120.12L77.64 119.71L77.99 119.30L78.34 118.89L78.70 118.48L79.06 118.06L79.42 117.65L79.79 117.24L80.16 116.83L80.53 116.42L80.90 116.01L81.28 115.60L81.66 115.19L82.04 114.77L82.43 114.36L82.82 113.95L83.21 113.53L83.60 113.12L84.00 112.70L84.40 112.29L84.80 111.87L85.21 111.46L85.62 111.04L86.03 110.62L86.44 110.20L86.86 109.78L87.28 109.36L87.70 108.94L88.13 108.52L88.56 108.10L88.99 107.68L89.42 107.25L89.86 106.83L90.30 106.41L90.74 105.98L91.18 105.55L91.63 105.13L92.08 104.70L92.53 104.27L92.99 103.84L93.45 103.41L93.91 102.98L94.37 102.55L94.84 102.12L95.30 101.68L95.78 101.25L96.25 100.81L96.73 100.38L97.21 99.94L97.69 99.50L98.17 99.07L98.66 98.63L99.15 98.19L99.64 97.75L100.13 97.31L100.63 96.87L101.13 96.42L101.63 95.98L102.14 95.54L102.64 95.09L103.15 94.65L103.66 94.20L104.18 93.76L104.69 93.31L105.21 92.87L105.73 92.42L106.26 91.97L106.79 91.52L107.31 91.07L107.84 90.62L108.38 90.17L108.91 89.72L109.45 89.27L109.99 88.82L110.54 88.37L111.08 87.91L111.63 87.46L112.18 87.01L112.73 86.55L113.28 86.10L113.84 85.64L114.40 85.19L114.96 84.74L115.52 84.28L116.09 83.83L116.66 83.37L117.23 82.91L117.80 82.46L118.37 82.00L118.95 81.55L119.53 81.09L120.11 80.63L120.69 80.18L121.28 79.72L121.86 79.27L122.45 78.81L123.04 78.35L123.64 77.90L124.23 77.44L124.83 76.99L125.43 76.53L126.03 76.08L126.63 75.62L127.24 75.17L127.84 74.71L128.45 74.26L129.06 73.80L129.68 73.35L130.29 72.90L130.91 72.44L131.53 71.99L132.15 71.54L132.77 71.09L133.39 70.64L134.02 70.18L134.65 69.73L135.28 69.29L135.91 68.84L136.54 68.39L137.18 67.94L137.82 67.49L138.46 67.05L139.10 66.60L139.74 66.16L140.38 65.71L141.03 65.27L141.67 64.83L142.32 64.39L142.97 63.95L143.63 63.51L144.28 63.07L144.94 62.64L145.59 62.20L146.25 61.76L146.91 61.33L147.58 60.90L148.24 60.47L148.90 60.04L149.57 59.61L150.24 59.18L150.91 58.75L151.58 58.33L152.25 57.90L152.93 57.48L153.60 57.06L154.28 56.64L154.96 56.22L155.64 55.81L156.32 55.39L157.00 54.98L157.69 54.57L158.37 54.16L159.06 53.75L159.75 53.34L160.44 52.94L161.13 52.53L161.82 52.13L162.51 51.73L163.21 51.33L163.90 50.94L164.60 50.54L165.30 50.15L166.00 49.76L166.70 49.37L167.40 48.99L168.10 48.60L168.81 48.22L169.51 47.84L170.22 47.46L170.93 47.09L171.64 46.72L172.35 46.35L173.06 45.98L173.77 45.61L174.48 45.25L175.19 44.88L175.91 44.52L176.63 44.17L177.34 43.81L178.06 43.46L178.78 43.11L179.50 42.77L180.22 42.42L180.94 42.08L181.66 41.74L182.39 41.40L183.11 41.07L183.84 40.74L184.56 40.41L185.29 40.09L186.02 39.76L186.74 39.44L187.47 39.13L188.20 38.81L188.93 38.50L189.66 38.20L190.40 37.89L191.13 37.59L191.86 37.29L192.60 36.99L193.33 36.70L194.07 36.41L194.80 36.13L195.54 35.84L196.27 35.56L197.01 35.29L197.75 35.01L198.49 34.74L199.23 34.48L199.97 34.21L200.71 33.95L201.45 33.70L202.19 33.45L202.93 33.20L203.67 32.95L204.42 32.71L205.16 32.47L205.90 32.23L206.65 32.00L207.39 31.78L208.14 31.55L208.88 31.33L209.63 31.12L210.37 30.90L211.12 30.69L211.86 30.49L212.61 30.29L213.36 30.09L214.10 29.90L214.85 29.71L215.60 29.52L216.35 29.34L217.09 29.17L217.84 28.99L218.59 28.83L219.34 28.66L220.09 28.50L220.83 28.34L221.58 28.19L222.33 28.04L223.08 27.90L223.83 27.76L224.58 27.63L225.32 27.50L226.07 27.37L226.82 27.25L227.57 27.13L228.32 27.02L229.07 26.91L229.81 26.81L230.56 26.71L231.31 26.61L232.06 26.53L232.81 26.44L233.55 26.36L234.30 26.28L235.05 26.21L235.80 26.15L236.54 26.09L237.29 26.03L238.04 25.98L238.78 25.93L239.53 25.89L240.27 25.85L241.02 25.82L241.76 25.80L242.51 25.77L243.25 25.76L244.00 25.75L244.74 25.74L245.48 25.74L246.23 25.74L246.97 25.75L247.71 25.77L248.45 25.79L249.19 25.81L249.93 25.84L250.67 25.88L251.41 25.92L252.15 25.97L252.89 26.02L253.63 26.08L254.36 26.14L255.10 26.21L255.83 26.29L256.57 26.37L257.30 26.45L258.04 26.55L258.77 26.64L259.50 26.75L260.24 26.86L260.97 26.97L261.70 27.09L262.43 27.22L263.16 27.35L263.88 27.49L264.61 27.64L265.34 27.79L266.06 27.95L266.79 28.11L267.51 28.28L268.24 28.45L268.96 28.64L269.68 28.82L270.40 29.02L271.12 29.22L271.84 29.43L272.56 29.64L273.27 29.86L273.99 30.09L274.71 30.32L275.42 30.56L276.13 30.80L276.84 31.06L277.55 31.32L278.26 31.58L278.97 31.86L279.68 32.13L280.39 32.42L281.09 32.71L281.80 33.02L282.50 33.32L283.20 33.64L283.90 33.96L284.60 34.29L285.30 34.62L286.00 34.96L286.69 35.31L287.39 35.67L288.08 36.04L288.77 36.41L289.46 36.79L290.15 37.17L290.84 37.57L291.53 37.97L292.21 38.38L292.90 38.79L293.58 39.22L294.26 39.65L294.94 40.09L295.62 40.53L296.30 40.99L296.97 41.45L297.65 41.92L298.32 42.40L298.99 42.89L299.66 43.38L300.33 43.88L301.00 44.39L301.66 44.91L302.32 45.44L302.99 45.97L303.65 46.51L304.31 47.06L304.96 47.62L305.62 48.19L306.27 48.77L306.93 49.35L307.58 49.94L308.22 50.54L308.87 51.15L309.52 51.77L310.16 52.40L310.80 53.03L311.44 53.68L312.08 54.33L312.72 54.99L313.36 55.66L313.99 56.34L314.62 57.03L315.25 57.73L315.88 58.43L316.51 59.14L317.13 59.87L317.75 60.60L318.37 61.34L318.99 62.09L319.61 62.85L320.22 63.62L320.84 64.40L321.45 65.18L322.06 65.98L322.66 66.78L323.27 67.60L323.87 68.42L324.47 69.25L325.07 70.09L325.67 70.94L326.26 71.80L326.86 72.67L327.45 73.55L328.04 74.43L328.62 75.33L329.21 76.24L329.79 77.15L330.37 78.07L330.95 79.01L331.53 79.95L332.10 80.90L332.67 81.86L333.24 82.83L333.81 83.80L334.38 84.79L334.94 85.79L335.50 86.79L336.06 87.80L336.62 88.83L337.17 89.86L337.72 90.90L338.27 91.94L338.82 93.00L339.36 94.07L339.91 95.14L340.45 96.22L340.99 97.31L341.52 98.41L342.06 99.52L342.59 100.63L343.11 101.75L343.64 102.88L344.17 104.02L344.69 105.17L345.21 106.32L345.72 107.48L346.24 108.65L346.75 109.82L347.26 111.01L347.76 112.19L348.27 113.39L348.77 114.59L349.27 115.80L349.77 117.01L350.26 118.23L350.75 119.45L351.24 120.69L351.73 121.92L352.21 123.16L352.69 124.41L353.17 125.66L353.65 126.91L354.12 128.17L354.60 129.43L355.06 130.70L355.53 131.97L355.99 133.24L356.45 134.52L356.91 135.80L357.37 137.08L357.82 138.36L358.27 139.64L358.72 140.93L359.16 142.21L359.60 143.50L360.04 144.78L360.48 146.07L360.91 147.35L361.34 148.64L361.77 149.92L362.20 151.20L362.62 152.48L363.04 153.75L363.46 155.03L363.87 156.29L364.28 157.56L364.69 158.82L365.10 160.07L365.50 161.32L365.90 162.57L366.30 163.80L366.69 165.03L367.08 166.25L367.47 167.47L367.86 168.67L368.24 169.87L368.62 171.06L369.00 172.23L369.37 173.40L369.74 174.55L370.11 175.70L370.48 176.83L370.84 177.94L371.20 179.05L371.56 180.14L371.91 181.21L372.26 182.27L372.61 183.31L372.95 184.34L373.30 185.35L373.63 186.34L373.97 187.31L374.30 188.27L374.63 189.20L374.96 190.12L375.28 191.02L375.60 191.89L375.92 192.75L376.24 193.58L376.55 194.39L376.86 195.18L377.16 195.94L377.46 196.68L377.76 197.40L378.06 198.10L378.35 198.77L378.64 199.42L378.93 200.04L379.21 200.63L379.49 201.21L379.77 201.76L380.05 202.28L380.32 202.78L380.58 203.25L380.85 203.70L381.11 204.13L381.37 204.53L381.63 204.91L381.88 205.26L382.13 205.59L382.37 205.90L382.62 206.19L382.86 206.45L383.09 206.70L383.33 206.92L383.56 207.13L383.78 207.32L384.01 207.49L384.23 207.64L384.44 207.78L384.66 207.90L384.87 208.01L385.08 208.10L385.28 208.19L385.48 208.26L385.68 208.32L385.87 208.37L386.06 208.42L386.25 208.46L386.44 208.49L386.62 208.51L386.80 208.53L386.97 208.55L387.14 208.56L387.31 208.57L387.48 208.58L387.64 208.59L387.80 208.59L387.95 208.59L388.11 208.60L388.25 208.60L388.40 208.60L388.54 208.60L388.68 208.60L388.82 208.60L388.95 208.60L389.08 208.60L389.20 208.60L389.32 208.60L389.44 208.60L389.56 208.60L389.67 208.60L389.78 208.60L389.89 208.60L389.99 208.60L390.09 208.60L390.18 208.60L390.28 208.60L390.36 208.60L390.45 208.60L390.53 208.60L390.61 208.60L390.69 208.60L390.76 208.60L390.83 208.60L390.89 208.60L390.96 208.60L391.01 208.60L391.07 208.60L391.12 208.60L391.17 208.60L391.22 208.60L391.26 208.60L391.30 208.60L391.33 208.60L391.36 208.60L391.39 208.60L391.42 208.60L391.44 208.60L391.46 208.60L391.47 208.60L391.48 208.60L391.49 208.60L391.50 208.60L391.50 208.60L392.40 208.60" stroke="#0000ff" stroke-width="2.00" fill="none" stroke-dasharray="3.199 2.376" stroke-dashoffset="1.16"/>
</g>
<g stroke="#666" stroke-width="1" stroke-opacity="0.55" fill="none">
<line x1="58.50" y1="218.95" x2="58.50" y2="215.15"/>
<line x1="58.50" y1="6.00" x2="58.50" y2="9.00"/>
<line x1="125.50" y1="218.95" x2="125.50" y2="215.15"/>
<line x1="125.50" y1="6.00" x2="125.50" y2="9.00"/>
<line x1="192.50" y1="218.95" x2="192.50" y2="215.15"/>
<line x1="192.50" y1="6.00" x2="192.50" y2="9.00"/>
<line x1="258.50" y1="218.95" x2="258.50" y2="215.15"/>
<line x1="258.50" y1="6.00" x2="258.50" y2="9.00"/>
<line x1="325.50" y1="218.95" x2="325.50" y2="215.15"/>
<line x1="325.50" y1="6.00" x2="325.50" y2="9.00"/>
<line x1="391.50" y1="218.95" x2="391.50" y2="215.15"/>
<line x1="391.50" y1="6.00" x2="391.50" y2="9.00"/>
<line x1="52.00" y1="208.50" x2="55.80" y2="208.50"/>
<line x1="398.00" y1="208.50" x2="395.00" y2="208.50"/>
<line x1="52.00" y1="142.50" x2="55.80" y2="142.50"/>
<line x1="398.00" y1="142.50" x2="395.00" y2="142.50"/>
<line x1="52.00" y1="75.50" x2="55.80" y2="75.50"/>
<line x1="398.00" y1="75.50" x2="395.00" y2="75.50"/>
<line x1="52.00" y1="8.50" x2="55.80" y2="8.50"/>
<line x1="398.00" y1="8.50" x2="395.00" y2="8.50"/>
</g>
<g stroke="#666" stroke-width="1" stroke-opacity="0.42" fill="none">
<line x1="75.50" y1="218.95" x2="75.50" y2="216.75"/>
<line x1="75.50" y1="6.00" x2="75.50" y2="7.90"/>
<line x1="92.50" y1="218.95" x2="92.50" y2="216.75"/>
<line x1="92.50" y1="6.00" x2="92.50" y2="7.90"/>
<line x1="108.50" y1="218.95" x2="108.50" y2="216.75"/>
<line x1="108.50" y1="6.00" x2="108.50" y2="7.90"/>
<line x1="142.50" y1="218.95" x2="142.50" y2="216.75"/>
<line x1="142.50" y1="6.00" x2="142.50" y2="7.90"/>
<line x1="158.50" y1="218.95" x2="158.50" y2="216.75"/>
<line x1="158.50" y1="6.00" x2="158.50" y2="7.90"/>
<line x1="175.50" y1="218.95" x2="175.50" y2="216.75"/>
<line x1="175.50" y1="6.00" x2="175.50" y2="7.90"/>
<line x1="208.50" y1="218.95" x2="208.50" y2="216.75"/>
<line x1="208.50" y1="6.00" x2="208.50" y2="7.90"/>
<line x1="225.50" y1="218.95" x2="225.50" y2="216.75"/>
<line x1="225.50" y1="6.00" x2="225.50" y2="7.90"/>
<line x1="242.50" y1="218.95" x2="242.50" y2="216.75"/>
<line x1="242.50" y1="6.00" x2="242.50" y2="7.90"/>
<line x1="275.50" y1="218.95" x2="275.50" y2="216.75"/>
<line x1="275.50" y1="6.00" x2="275.50" y2="7.90"/>
<line x1="291.50" y1="218.95" x2="291.50" y2="216.75"/>
<line x1="291.50" y1="6.00" x2="291.50" y2="7.90"/>
<line x1="308.50" y1="218.95" x2="308.50" y2="216.75"/>
<line x1="308.50" y1="6.00" x2="308.50" y2="7.90"/>
<line x1="341.50" y1="218.95" x2="341.50" y2="216.75"/>
<line x1="341.50" y1="6.00" x2="341.50" y2="7.90"/>
<line x1="358.50" y1="218.95" x2="358.50" y2="216.75"/>
<line x1="358.50" y1="6.00" x2="358.50" y2="7.90"/>
<line x1="375.50" y1="218.95" x2="375.50" y2="216.75"/>
<line x1="375.50" y1="6.00" x2="375.50" y2="7.90"/>
<line x1="52.00" y1="195.50" x2="54.20" y2="195.50"/>
<line x1="398.00" y1="195.50" x2="396.10" y2="195.50"/>
<line x1="52.00" y1="182.50" x2="54.20" y2="182.50"/>
<line x1="398.00" y1="182.50" x2="396.10" y2="182.50"/>
<line x1="52.00" y1="168.50" x2="54.20" y2="168.50"/>
<line x1="398.00" y1="168.50" x2="396.10" y2="168.50"/>
<line x1="52.00" y1="155.50" x2="54.20" y2="155.50"/>
<line x1="398.00" y1="155.50" x2="396.10" y2="155.50"/>
<line x1="52.00" y1="128.50" x2="54.20" y2="128.50"/>
<line x1="398.00" y1="128.50" x2="396.10" y2="128.50"/>
<line x1="52.00" y1="115.50" x2="54.20" y2="115.50"/>
<line x1="398.00" y1="115.50" x2="396.10" y2="115.50"/>
<line x1="52.00" y1="102.50" x2="54.20" y2="102.50"/>
<line x1="398.00" y1="102.50" x2="396.10" y2="102.50"/>
<line x1="52.00" y1="88.50" x2="54.20" y2="88.50"/>
<line x1="398.00" y1="88.50" x2="396.10" y2="88.50"/>
<line x1="52.00" y1="62.50" x2="54.20" y2="62.50"/>
<line x1="398.00" y1="62.50" x2="396.10" y2="62.50"/>
<line x1="52.00" y1="48.50" x2="54.20" y2="48.50"/>
<line x1="398.00" y1="48.50" x2="396.10" y2="48.50"/>
<line x1="52.00" y1="35.50" x2="54.20" y2="35.50"/>
<line x1="398.00" y1="35.50" x2="396.10" y2="35.50"/>
<line x1="52.00" y1="22.50" x2="54.20" y2="22.50"/>
<line x1="398.00" y1="22.50" x2="396.10" y2="22.50"/>
</g>
<g stroke="#666" stroke-width="1" stroke-opacity="0.66" fill="none">
<line x1="51.00" y1="5.50" x2="399.00" y2="5.50"/><line x1="51.00" y1="219.45" x2="399.00" y2="219.45"/><line x1="51.50" y1="5.00" x2="51.50" y2="219.95"/><line x1="398.50" y1="5.00" x2="398.50" y2="219.95"/>
</g>
<g class="tk">
<text x="58.80" y="236.95" text-anchor="middle">0.0</text>
<text x="125.44" y="236.95" text-anchor="middle">0.2</text>
<text x="192.08" y="236.95" text-anchor="middle">0.4</text>
<text x="258.72" y="236.95" text-anchor="middle">0.6</text>
<text x="325.36" y="236.95" text-anchor="middle">0.8</text>
<text x="392.00" y="236.95" text-anchor="middle">1.0</text>
<text x="48.55" y="214.30" text-anchor="end">0.0</text>
<text x="48.55" y="147.69" text-anchor="end">0.5</text>
<text x="48.55" y="81.07" text-anchor="end">1.0</text>
<text x="48.55" y="14.46" text-anchor="end">1.5</text>
</g>
<g>
<line x1="170.2" y1="107.90" x2="214.9" y2="107.90" stroke="#808080" stroke-width="2.00" />
<g class="lg"><text class="rho" x="222.26" y="112.50">ρ</text><text class="subB" x="229.3" y="113.60">B</text><text class="sl" x="234.85" y="112.80">/</text><text class="rho" x="238.86" y="112.50">ρ</text><text class="sub" x="245.55" y="113.60">0</text><text x="250.5" y="112.50">=</text><text x="256.9" y="112.50">0</text></g>
<line x1="170.2" y1="131.05" x2="214.9" y2="131.05" stroke="#a06c34" stroke-width="2.00" stroke-dasharray="11.2 4.8 11.2 4.8 3.3 4.8"/>
<g class="lg"><text class="rho" x="222.26" y="135.65">ρ</text><text class="subB" x="229.3" y="136.75">B</text><text class="sl" x="234.85" y="135.95">/</text><text class="rho" x="238.86" y="135.65">ρ</text><text class="sub" x="245.55" y="136.75">0</text><text x="250.5" y="135.65">=</text><text x="256.9" y="135.65">2</text></g>
<line x1="170.2" y1="154.20" x2="214.9" y2="154.20" stroke="#ff0000" stroke-width="2.00" stroke-dasharray="5.95 2.98"/>
<g class="lg"><text class="rho" x="222.26" y="158.80">ρ</text><text class="subB" x="229.3" y="159.90">B</text><text class="sl" x="234.85" y="159.10">/</text><text class="rho" x="238.86" y="158.80">ρ</text><text class="sub" x="245.55" y="159.90">0</text><text x="250.5" y="158.80">=</text><text x="256.9" y="158.80">3</text></g>
<line x1="170.2" y1="177.35" x2="214.9" y2="177.35" stroke="#ff8000" stroke-width="2.00" stroke-dasharray="2.2 3 6.3 3.4"/>
<g class="lg"><text class="rho" x="222.26" y="181.95">ρ</text><text class="subB" x="229.3" y="183.05">B</text><text class="sl" x="234.85" y="182.25">/</text><text class="rho" x="238.86" y="181.95">ρ</text><text class="sub" x="245.55" y="183.05">0</text><text x="250.5" y="181.95">=</text><text x="256.9" y="181.95">4</text></g>
<line x1="170.2" y1="200.50" x2="214.0" y2="200.50" stroke="#0000ff" stroke-width="2.00" stroke-dasharray="2.8 2.08"/>
<g class="lg"><text class="rho" x="222.26" y="205.10">ρ</text><text class="subB" x="229.3" y="206.20">B</text><text class="sl" x="234.85" y="205.40">/</text><text class="rho" x="238.86" y="205.10">ρ</text><text class="sub" x="245.55" y="206.20">0</text><text x="250.5" y="205.10">=</text><text x="256.9" y="205.10">5</text></g>
</g>
<text class="ax" x="225.3" y="265.0" text-anchor="middle">x</text>
<g transform="translate(16.7,126.7) rotate(-90)">
<g transform="scale(0.87,1)"><text class="ax it" x="-0.6" y="0">ϕ</text></g>
<g transform="translate(11.7,0) scale(0.8,1)"><text class="ax" x="-0.84" y="0">(</text></g>
<text class="ax" x="15.9" y="0">x</text>
<g transform="translate(25.7,0) scale(0.8,1)"><text class="ax" x="0" y="0">)</text></g>
</g>
</svg>
</body></html>
